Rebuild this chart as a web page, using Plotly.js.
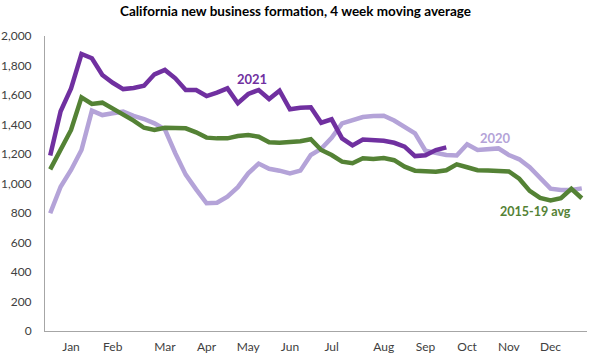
<!DOCTYPE html>
<html>
<head>
<meta charset="utf-8">
<script src="https://cdn.plot.ly/plotly-3.0.1.min.js"></script>
<style>html,body{margin:0;padding:0;background:#fff;}#chart{width:591px;height:363px;}</style>
</head>
<body>
<div id="chart"></div>
<script>
// Week numbers (1..52)
const weeks = Array.from({length: 52}, (_, i) => i + 1);

// Month tick labels and the week they sit on
const monthLabels = ["Jan","Feb","Mar","Apr","May","Jun","Jul","Aug","Sep","Oct","Nov","Dec"];
const monthWeeks  = [3, 7, 12, 16, 20, 24, 28, 33, 37, 41, 45, 49];

// Series values (4-week moving average of new business formations)
const avg2015_19 = [1096,1227,1363,1584,1539,1548,1510,1464,1426,1378,1363,1378,1374,1374,1347,1311,1306,1306,1322,1329,1317,1279,1277,1279,1286,1300,1227,1193,1148,1137,1171,1166,1172,1158,1114,1087,1080,1080,1090,1130,1110,1090,1088,1082,1082,1032,950,902,885,900,964,900];
const y2020 = [798,978,1092,1227,1494,1464,1476,1487,1458,1437,1408,1367,1205,1060,960,866,870,911,975,1069,1135,1100,1087,1068,1087,1193,1235,1310,1408,1430,1451,1458,1460,1427,1385,1340,1222,1205,1193,1190,1266,1227,1234,1238,1193,1164,1110,1035,965,956,956,967];
const y2021 = [1190,1490,1645,1878,1849,1736,1683,1640,1648,1663,1740,1770,1713,1634,1634,1593,1616,1645,1544,1607,1634,1573,1629,1503,1514,1517,1412,1435,1306,1258,1298,1294,1290,1276,1250,1186,1191,1227,1245];

const C2021 = "#7030a0", C2020 = "#b4a3d8", CAVG = "#548235";
const FONT = "Lato, 'Liberation Sans', sans-serif";

const traces = [
  {x: weeks, y: y2020, name: "2020", mode: "lines", line: {color: C2020, width: 4.5}},
  {x: weeks, y: avg2015_19, name: "2015-19 avg", mode: "lines", line: {color: CAVG, width: 4.5}},
  {x: weeks.slice(0, y2021.length), y: y2021, name: "2021", mode: "lines", line: {color: C2021, width: 4.5}}
];

const layout = {
  width: 591, height: 363,
  margin: {l: 45, r: 4, t: 36, b: 32},
  paper_bgcolor: "#fff", plot_bgcolor: "#fff",
  showlegend: false,
  font: {family: FONT, size: 12, color: "#404040"},
  title: {text: "<b>California new business formation, 4 week moving average</b>",
          x: 0.5, xanchor: "center", y: 0.968, yanchor: "middle",
          font: {family: FONT, size: 13.5, color: "#000"}},
  xaxis: {range: [0.5, 52.5], tickvals: monthWeeks, ticktext: monthLabels,
          showgrid: false, zeroline: false, showline: true, linecolor: "#a6a6a6", linewidth: 1,
          ticks: "", ticklabelstandoff: 5, fixedrange: true,
          tickfont: {family: FONT, size: 12, color: "#404040"}},
  yaxis: {range: [0, 2000], dtick: 200, tickformat: ",",
          showgrid: false, zeroline: false, showline: true, linecolor: "#a6a6a6", linewidth: 1,
          ticks: "", ticklabelstandoff: 10, fixedrange: true,
          tickfont: {family: FONT, size: 12, color: "#404040"}},
  annotations: [
    {x: 20.4, y: 1708, xref: "x", yref: "y", text: "<b>2021</b>", showarrow: false,
     font: {family: FONT, size: 13, color: C2021}},
    {x: 43.7, y: 1308, xref: "x", yref: "y", text: "<b>2020</b>", showarrow: false,
     font: {family: FONT, size: 13, color: C2020}},
    {x: 47.6, y: 809, xref: "x", yref: "y", text: "<b>2015-19 avg</b>", showarrow: false,
     font: {family: FONT, size: 12.5, color: CAVG}}
  ]
};

Plotly.newPlot("chart", traces, layout, {displayModeBar: false, staticPlot: true});
</script>
</body>
</html>
